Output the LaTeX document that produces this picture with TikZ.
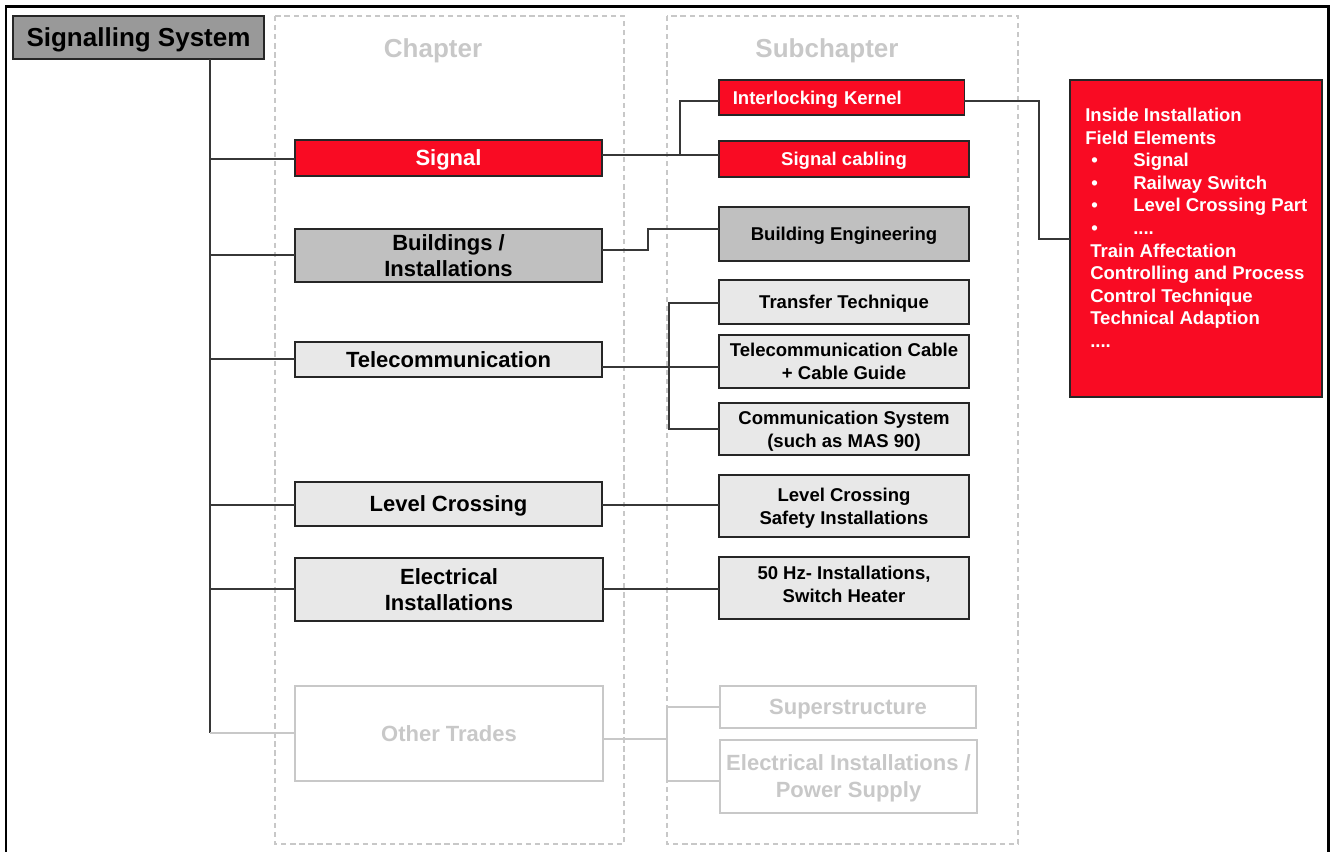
\documentclass[tikz,border=0pt]{standalone}
\usepackage{fontspec}
\setmainfont{Liberation Sans}
\usetikzlibrary{calc}

\definecolor{sigred}{RGB}{249,11,35}
\definecolor{midgray}{RGB}{192,192,192}
\definecolor{palegray}{RGB}{232,232,232}
\definecolor{titlegray}{RGB}{153,153,153}
\definecolor{fadegray}{RGB}{200,200,200}
\definecolor{linegray}{RGB}{55,55,55}

% box from its corners: name, x1, y1, x2, y2, style, text
\newcommand\pbox[7]{\node[#6, minimum width={(#4-#2)*0.75pt}, minimum height={(#5-#3)*0.75pt}] (#1) at ({(#2+#4)/2},{(#3+#5)/2}) {#7};}

\tikzset{
  box/.style={draw=black!85, line width=1pt, inner sep=0pt, outer sep=0pt, align=center, text depth=0pt},
  chap/.style={box, font=\fontsize{16.5}{20}\selectfont\bfseries},
  sub/.style={box, font=\fontsize{13.9}{17.25}\selectfont\bfseries},
  redbox/.style={fill=sigred, text=white},
  graybox/.style={fill=midgray},
  palebox/.style={fill=palegray},
  faded/.style={draw=fadegray, line width=1.1pt, text=fadegray, inner sep=0pt, outer sep=0pt,
    align=center, text depth=0pt, font=\fontsize{16.5}{20.25}\selectfont\bfseries},
  header/.style={text=fadegray, inner sep=0pt, text depth=0pt, font=\fontsize{19.5}{23}\selectfont\bfseries},
  column/.style={draw=fadegray, line width=0.8pt, dash pattern=on 4pt off 2.8pt},
  conn/.style={draw=linegray, line width=1.1pt},
  fadeconn/.style={draw=fadegray, line width=1.1pt},
  infoline/.style={anchor=base west, inner sep=0pt, text=white, font=\fontsize{13.9}{17}\selectfont\bfseries},
}

\newcommand\bul[1]{\makebox[31.5pt][l]{\textbullet}#1}

\begin{document}
\begin{tikzpicture}[x=0.75pt, y=-0.75pt]
\useasboundingbox (0,0) rectangle (1331,852);

% outer frame, open at the bottom
\draw[line width=2pt] (6,852) -- (6,6.5) -- (1328.5,6.5) -- (1328.5,852);

% dashed columns and their headings
\draw[column] (275,16) rectangle (624,844);
\draw[column] (667,16) rectangle (1018,844);
\node[header] (hchap) at (433,48) {Chapter};
\node[header] (hsub) at (827,48) {Subchapter};

% root
\pbox{sys}{13}{16}{264}{59}{box, fill=titlegray, font=\fontsize{19.5}{23}\selectfont\bfseries}{Signalling System}

% chapters
\pbox{sig}{295}{140}{602}{176}{chap, redbox}{Signal}
\pbox{bld}{295}{229}{602}{282}{chap, graybox}{Buildings /\\Installations}
\pbox{tel}{295}{342}{602}{377}{chap, palebox}{Telecommunication}
\pbox{lvl}{295}{482}{602}{526}{chap, palebox}{Level Crossing}
\pbox{ele}{295}{558}{603}{621}{chap, palebox}{Electrical\\Installations}
\pbox{oth}{295}{686}{603}{781}{faded}{Other Trades}

% subchapters
\pbox{ik}{719}{80}{964}{115}{sub, redbox, inner xsep=10.5pt, text width=163pt, align=left}{Interlocking Kernel}
\pbox{cab}{719}{141}{969}{177}{sub, redbox}{Signal cabling}
\pbox{beng}{719}{207}{969}{261}{sub, graybox}{Building Engineering}
\pbox{tt}{719}{280}{969}{324}{sub, palebox}{Transfer Technique}
\pbox{tcab}{719}{335}{969}{388}{sub, palebox}{Telecommunication Cable\\+ Cable Guide}
\pbox{cs}{719}{403}{969}{455}{sub, palebox}{Communication System\\(such as MAS 90)}
\pbox{lcs}{719}{475}{969}{537}{sub, palebox}{Level Crossing\\Safety Installations}
\pbox{hz}{719}{557}{969}{619}{sub, palebox, text depth=6pt}{50 Hz- Installations,\\Switch Heater}
\pbox{ss}{720}{686}{976}{728}{faded}{Superstructure}
\pbox{eps}{720}{740}{977}{813}{faded}{Electrical Installations /\\Power Supply}

% detail box of the interlocking kernel
\pbox{info}{1070}{80}{1322}{397}{box, redbox}{}
\node[infoline] (i1) at (1085,121.5) {Inside Installation};
\node[infoline] (i2) at (1085,144.1) {Field Elements};
\node[infoline] (i3) at (1091,166.7) {\bul{Signal}};
\node[infoline] (i4) at (1091,189.3) {\bul{Railway Switch}};
\node[infoline] (i5) at (1091,211.9) {\bul{Level Crossing Part}};
\node[infoline] (i6) at (1091,234.5) {\bul{....}};
\node[infoline] (i7) at (1090,257.1) {Train Affectation};
\node[infoline] (i8) at (1090,279.7) {Controlling and Process};
\node[infoline] (i9) at (1090,302.3) {Control Technique};
\node[infoline] (i10) at (1090,324.9) {Technical Adaption};
\node[infoline] (i11) at (1090,347.5) {....};

% trunk and branches to the chapters
\coordinate (trunkend) at (210,733);
\draw[conn] (sys.south -| trunkend) -- (trunkend);
\draw[conn] (sig.west |- 0,159) -- (trunkend |- 0,159);
\draw[conn] (bld.west |- 0,255) -- (trunkend |- 0,255);
\draw[conn] (tel.west |- 0,359) -- (trunkend |- 0,359);
\draw[conn] (lvl.west |- 0,505) -- (trunkend |- 0,505);
\draw[conn] (ele.west |- 0,589) -- (trunkend |- 0,589);
\draw[fadeconn] (oth.west |- trunkend) -- (trunkend);

% chapter to subchapter connectors
\coordinate (sigfork) at (680,155);
\draw[conn] (sig.east |- sigfork) -- (cab.west |- sigfork);
\draw[conn] (sigfork) -- (680,101) -- (ik.west |- 0,101);

\coordinate (bldbend) at (648,250);
\draw[conn] (bld.east |- bldbend) -- (bldbend) -- (648,229) -- (beng.west |- 0,229);

\coordinate (telfork) at (669,367);
\draw[conn] (tel.east |- telfork) -- (tcab.west |- telfork);
\draw[conn] (tt.west |- 0,303) -- (669,303) -- (669,429) -- (cs.west |- 0,429);

\draw[conn] (lvl.east |- 0,505) -- (lcs.west |- 0,505);
\draw[conn] (ele.east |- 0,589) -- (hz.west |- 0,589);

\coordinate (othfork) at (667,739);
\draw[fadeconn] (oth.east |- othfork) -- (othfork);
\draw[fadeconn] (ss.west |- 0,707) -- (667,707) -- (667,781) -- (eps.west |- 0,781);

% interlocking kernel to its detail box
\draw[conn] (ik.east |- 0,101) -- (1039,101) -- (1039,239) -- (info.west |- 0,239);
\end{tikzpicture}
\end{document}
